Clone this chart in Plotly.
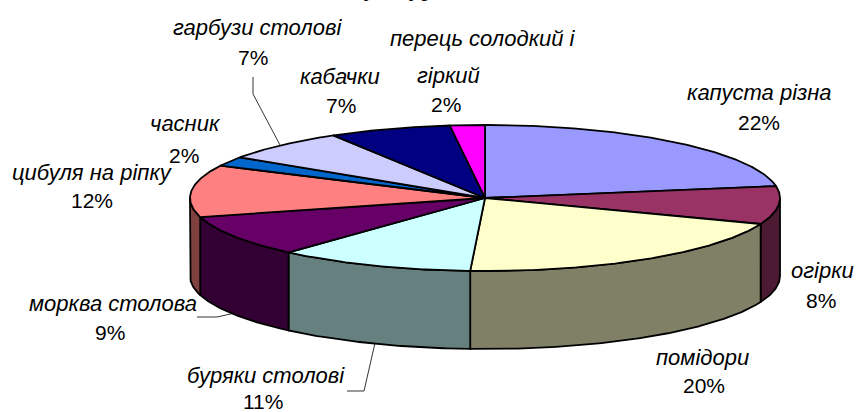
import numpy as np
import plotly.graph_objects as go

# ---- data ----
categories = ["капуста різна", "огірки", "помідори", "буряки столові", "морква столова",
              "цибуля на ріпку", "часник", "гарбузи столові", "кабачки", "перець солодкий і гіркий"]
values = [22.4, 8.4, 20.0, 10.8, 9.2, 11.5, 2.1, 7.0, 6.7, 1.9]
top_colors = ["#9999FF", "#993366", "#FFFFCC", "#CCFFFF", "#660066",
              "#FF8080", "#0066CC", "#CCCCFF", "#000080", "#FF00FF"]
side_colors = ["#4D4D80", "#4D1A33", "#808066", "#668080", "#330033",
               "#804040", "#003366", "#666680", "#000040", "#800080"]

# ---- pie geometry (projected disc) ----
CX, CY, RX, RY, DEPTH = 485.0, 198.0, 295.0, 73.0, 78.0
OUTLINE = dict(color="black", width=1.8)

fracs = np.array(values) / sum(values)
edges = np.concatenate([[0], np.cumsum(fracs)]) * 2 * np.pi


def rim(a0, a1, drop=0.0):
    t = np.linspace(a0, a1, max(2, int((a1 - a0) / 0.01)))
    return CX + RX * np.sin(t), CY - RY * np.cos(t) + drop


fig = go.Figure()

# side walls: only the near half of the disc is visible
for i, c in enumerate(categories):
    a0, a1 = max(edges[i], np.pi / 2), min(edges[i + 1], 1.5 * np.pi)
    if a1 <= a0:
        continue
    x0, y0 = rim(a0, a1)
    x1, y1 = rim(a0, a1, DEPTH)
    fig.add_trace(go.Scatter(
        x=np.concatenate([x0, x1[::-1], x0[:1]]), y=np.concatenate([y0, y1[::-1], y0[:1]]),
        mode="lines", fill="toself", fillcolor=side_colors[i], line=OUTLINE,
        hoverinfo="skip", showlegend=False))

# top faces
for i, c in enumerate(categories):
    x0, y0 = rim(edges[i], edges[i + 1])
    fig.add_trace(go.Scatter(
        x=np.concatenate([[CX], x0, [CX]]), y=np.concatenate([[CY], y0, [CY]]),
        mode="lines", fill="toself", fillcolor=top_colors[i], line=OUTLINE,
        name=c, hoverinfo="name", showlegend=False))

# leader lines
leaders = [
    ([253, 253, 280], [77, 94, 145]),
    ([197, 217, 235], [317, 317, 313]),
    ([347, 364, 375], [391, 391, 343]),
]
for lx, ly in leaders:
    fig.add_trace(go.Scatter(x=lx, y=ly, mode="lines", line=dict(color="black", width=0.8),
                             hoverinfo="skip", showlegend=False))

# labels: text, x, y, italic
pct = [f"{round(v)}%" for v in values]
label_items = [
    (categories[0], 759, 92, True), (pct[0], 759, 122, False),
    (categories[1], 822, 270, True), (pct[1], 821, 300, False),
    (categories[2], 702, 357, True), (pct[2], 704, 385, False),
    (categories[3], 266, 375, True), (pct[3], 263, 401, False),
    (categories[4], 113, 303, True), (pct[4], 110, 332, False),
    (categories[5], 92, 172, True), (pct[5], 92, 200, False),
    (categories[6], 185, 123, True), (pct[6], 184, 155, False),
    (categories[7], 257, 27, True), (pct[7], 253, 57, False),
    (categories[8], 340, 76, True), (pct[8], 341, 105, False),
    ("перець солодкий і", 483, 38, True), ("гіркий", 448, 75, True), (pct[9], 446, 104, False),
]
annotations = [
    dict(x=x, y=y, text=f"<i>{t}</i>" if it else t, showarrow=False, xanchor="center", yanchor="middle",
         font=dict(family="Liberation Sans", size=22 if it else 21, color="black"))
    for t, x, y, it in label_items
]
# title, cut off by the top edge in the reference: only the descenders show
annotations.append(dict(x=393, y=3, text="культур", showarrow=False, xanchor="center", yanchor="bottom",
                        font=dict(family="Liberation Serif", size=25, color="black")))

fig.update_layout(
    width=857, height=412, margin=dict(l=0, r=0, t=0, b=0),
    paper_bgcolor="white", plot_bgcolor="white",
    xaxis=dict(range=[0, 857], visible=False, fixedrange=True),
    yaxis=dict(range=[412, 0], visible=False, fixedrange=True),
    annotations=annotations,
)
fig.write_html("out.html", config=dict(displayModeBar=False),
               post_script="document.body.style.margin='0';")
